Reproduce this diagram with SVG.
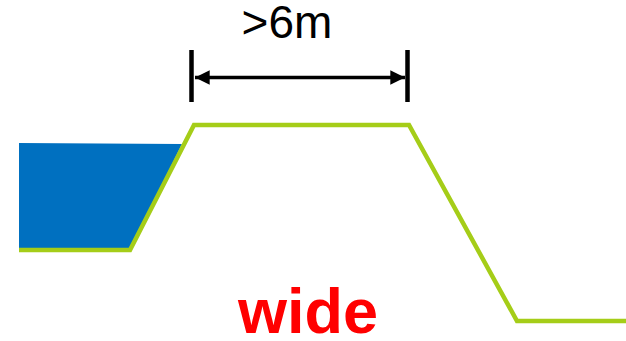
<svg xmlns="http://www.w3.org/2000/svg" width="626" height="341" viewBox="0 0 626 341">
<style>
.ground{fill:none;stroke:#A5CD18;stroke-width:4.5;stroke-linejoin:miter}
.dim{stroke:#000;stroke-width:3.5;fill:none}
.tick{stroke:#000;stroke-width:4.5}
.lbl{font-family:"Liberation Sans",Arial,sans-serif}
</style>
<defs>
<marker id="ah" viewBox="0 0 10 10" refX="10" refY="5" markerWidth="4.2" markerHeight="4.6" orient="auto-start-reverse" markerUnits="strokeWidth">
<path d="M0,0 L10,5 L0,10 Z" fill="#000"/>
</marker>
</defs>
<g id="water">
<polygon points="19,143 182,144 130,250 19,250" fill="#0070C0"/>
</g>
<g id="levee">
<polyline class="ground" points="19,250 130,250 194,125 409,125 517,321 626,321"/>
</g>
<g id="connectors">
<line class="tick" x1="191.5" y1="50" x2="191.5" y2="102"/>
<line class="tick" x1="407.5" y1="50" x2="407.5" y2="102"/>
<line class="dim" x1="195" y1="77.5" x2="405" y2="77.5" marker-start="url(#ah)" marker-end="url(#ah)"/>
</g>
<g id="labels">
<text class="lbl" x="287" y="38" font-size="46" text-anchor="middle" fill="#000">&gt;6m</text>
<text class="lbl" x="308" y="333" font-size="63" font-weight="bold" text-anchor="middle" fill="#FF0000">wide</text>
</g>
</svg>
